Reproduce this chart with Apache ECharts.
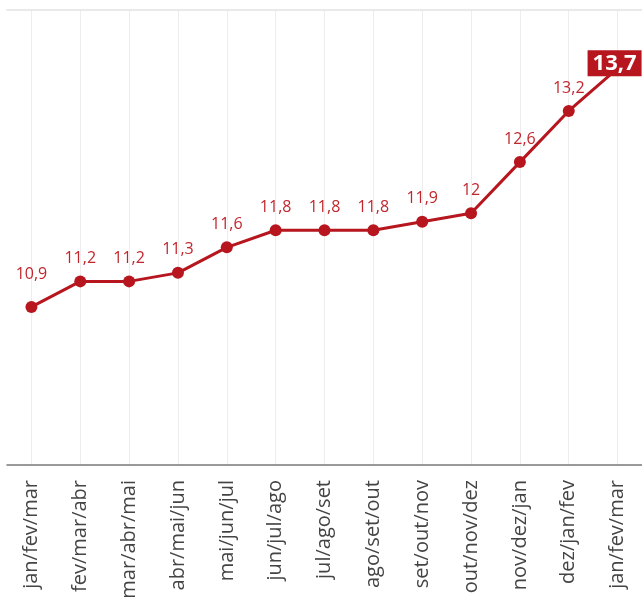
<!DOCTYPE html>
<html>
<head>
<meta charset="utf-8">
<script src="https://cdn.jsdelivr.net/npm/echarts@6/dist/echarts.min.js"></script>
<style>html,body{margin:0;padding:0;background:#fff}#c{width:642px;height:603px}</style>
</head>
<body>
<div id="c"></div>
<script>
const categories = ['jan/fev/mar','fev/mar/abr','mar/abr/mai','abr/mai/jun','mai/jun/jul','jun/jul/ago','jul/ago/set','ago/set/out','set/out/nov','out/nov/dez','nov/dez/jan','dez/jan/fev','jan/fev/mar'];
const values = [10.9, 11.2, 11.2, 11.3, 11.6, 11.8, 11.8, 11.8, 11.9, 12, 12.6, 13.2, 13.7];

const red = '#b7161e';
const fmt = v => String(v).replace('.', ',');
const lastIdx = values.length - 1;
const seriesData = values.map((v, i) => {
  if (i === lastIdx) {
    return {
      value: v,
      label: {
        position: 'inside',
        offset: [-3, -5],
        color: '#fff',
        fontSize: 22,
        fontWeight: 'bold',
        backgroundColor: red,
        padding: [3, 5, 1, 5]
      }
    };
  }
  if (i === 0) {
    return { value: v, label: { offset: [0, -10] } };
  }
  return v;
});

const chart = echarts.init(document.getElementById('c'));
chart.setOption({
  animation: false,
  grid: { left: 7, top: 10, width: 640, height: 455 },
  xAxis: [{
    type: 'category',
    data: categories,
    boundaryGap: true,
    axisLine: { lineStyle: { color: '#7a7a7a', width: 1.5 } },
    axisTick: { show: false },
    axisLabel: {
      rotate: 90, interval: 0, margin: 15,
      fontSize: 20, color: '#444', fontFamily: 'Open Sans'
    },
    splitLine: { show: true, alignWithLabel: true, lineStyle: { color: '#ededed', width: 1 } }
  }, {
    type: 'category',
    data: categories,
    position: 'top',
    boundaryGap: true,
    axisLine: { lineStyle: { color: '#e2e2e2', width: 1.5 } },
    axisTick: { show: false },
    axisLabel: { show: false }
  }],
  yAxis: {
    type: 'value', min: 9.045, max: 14.385, show: false,
    splitLine: { show: false }
  },
  series: [{
    type: 'line',
    data: seriesData,
    color: red,
    lineStyle: { color: red, width: 3 },
    symbol: 'circle',
    symbolSize: 12,
    itemStyle: { color: red },
    label: {
      show: true,
      position: 'top',
      distance: 9,
      color: '#c0272d',
      fontSize: 16,
      fontFamily: 'Open Sans',
      formatter: p => fmt(p.value)
    },
    z: 3
  }]
});
</script>
</body>
</html>
